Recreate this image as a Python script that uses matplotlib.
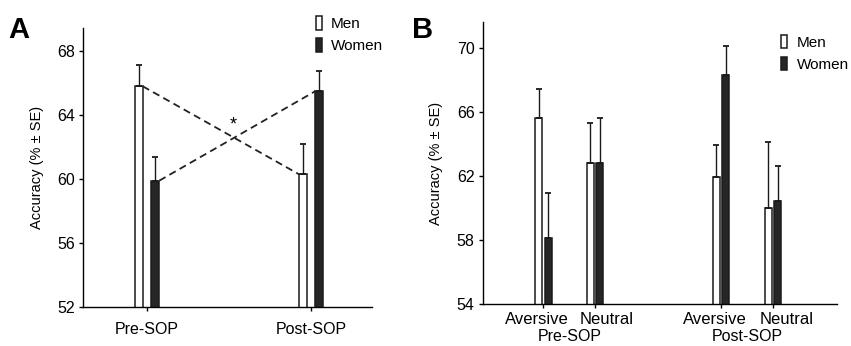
import matplotlib
matplotlib.use("Agg")
import matplotlib.pyplot as plt
import matplotlib.patches as mpatches
import matplotlib.transforms as mtransforms
import numpy as np

plt.rcParams["font.family"] = ["Liberation Sans", "DejaVu Sans"]

# ── Panel A data ─────────────────────────────────────────────
groups_a = ["Pre-SOP", "Post-SOP"]
men_a = [65.8, 60.3]
men_a_se = [1.35, 1.9]
women_a = [59.9, 65.5]
women_a_se = [1.5, 1.25]

# ── Panel B data ─────────────────────────────────────────────
conditions_b = ["Aversive", "Neutral", "Aversive", "Neutral"]
phases_b = ["Pre-SOP", "Post-SOP"]
men_b = [65.6, 62.8, 61.9, 60.0]
men_b_se = [1.8, 2.5, 2.0, 4.1]
women_b = [58.1, 62.8, 68.3, 60.4]
women_b_se = [2.8, 2.8, 1.8, 2.2]

MEN_FC = "white"
WOMEN_FC = "#262626"
EDGE = "#1a1a1a"

fig = plt.figure(figsize=(8.51, 3.46), dpi=100)


def draw_bars(ax, xs, vals, ses, fc, width):
    ax.bar(xs, vals, width=width, bottom=0, color=fc, edgecolor=EDGE,
           linewidth=1.1, zorder=2)
    ax.errorbar(xs, vals, yerr=[np.zeros(len(ses)), ses], fmt="none",
                ecolor=EDGE, elinewidth=1.0, capsize=2.5, capthick=1.3,
                zorder=3)


def style_axes(ax, labelpad):
    ax.spines["top"].set_visible(False)
    ax.spines["right"].set_visible(False)
    ax.spines["left"].set_linewidth(1.0)
    ax.spines["bottom"].set_linewidth(1.0)
    ax.tick_params(axis="both", direction="out", length=3, width=1.0,
                   labelsize=11.5, pad=3)
    ax.set_ylabel("Accuracy (% ± SE)", fontsize=10.5, labelpad=labelpad)


def add_legend(ax, x, y):
    handles = [mpatches.Patch(facecolor=MEN_FC, edgecolor=EDGE, linewidth=1.1, label="Men"),
               mpatches.Patch(facecolor=WOMEN_FC, edgecolor=EDGE, linewidth=1.1, label="Women")]
    ax.legend(handles=handles, loc="upper left", bbox_to_anchor=(x, y),
              bbox_transform=fig.transFigure, frameon=False, fontsize=11,
              handlelength=0.4, handleheight=1.0, handletextpad=0.6,
              labelspacing=0.45, borderpad=0, borderaxespad=0)


# ── Panel A ──────────────────────────────────────────────────
ax_a = fig.add_axes([0.0975, 0.1127, 0.3396, 0.806])
xa = np.arange(len(groups_a))
wa, offa = 0.049, 0.05
draw_bars(ax_a, xa - offa, men_a, men_a_se, MEN_FC, wa)
draw_bars(ax_a, xa + offa, women_a, women_a_se, WOMEN_FC, wa)

# interaction lines between bar tops
ax_a.plot([xa[0] - offa + wa / 2, xa[1] - offa - wa / 2], men_a,
          ls=(0, (4, 2.5)), color="#222222", lw=1.3, zorder=1)
ax_a.plot([xa[0] + offa + wa / 2, xa[1] + offa - wa / 2], women_a,
          ls=(0, (4, 2.5)), color="#222222", lw=1.3, zorder=1)
ax_a.text(0.524, 63.4, "*", ha="center", va="center", fontsize=13)

ax_a.set_xlim(-0.39, 1.37)
ax_a.set_ylim(52, 69.44)
ax_a.set_yticks([52, 56, 60, 64, 68])
ax_a.set_xticks(xa)
ax_a.set_xticklabels(groups_a, fontsize=11)
style_axes(ax_a, labelpad=9)
ax_a.tick_params(axis="x", pad=8)
add_legend(ax_a, 0.371, 0.953)
fig.text(0.010, 0.89, "A", fontsize=21, fontweight="bold", ha="left", va="baseline")

# ── Panel B ──────────────────────────────────────────────────
ax_b = fig.add_axes([0.5676, 0.1214, 0.416, 0.815])
xb = np.array([0.0, 1.0, 3.45, 4.46])
wb, offb = 0.136, 0.092
draw_bars(ax_b, xb - offb, men_b, men_b_se, MEN_FC, wb)
draw_bars(ax_b, xb + offb, women_b, women_b_se, WOMEN_FC, wb)

ax_b.set_xlim(-1.17, 5.7)
ax_b.set_ylim(54, 71.6)
ax_b.set_yticks([54, 58, 62, 66, 70])
ax_b.set_xticks(xb)
ax_b.set_xticklabels([])
style_axes(ax_b, labelpad=10)

trans = mtransforms.blended_transform_factory(ax_b.transData, ax_b.transAxes)
label_shift = [-0.13, 0.22, -0.13, 0.27]
for x, s, lab in zip(xb, label_shift, conditions_b):
    ax_b.text(x + s, -0.03, lab, transform=trans, ha="center", va="top", fontsize=12)
for x, lab in zip([0.52, 3.95], phases_b):
    ax_b.text(x, -0.09, lab, transform=trans, ha="center", va="top", fontsize=11.5)

add_legend(ax_b, 0.918, 0.9)
fig.text(0.484, 0.89, "B", fontsize=21, fontweight="bold", ha="left", va="baseline")

fig.savefig("out.png", dpi=100)
